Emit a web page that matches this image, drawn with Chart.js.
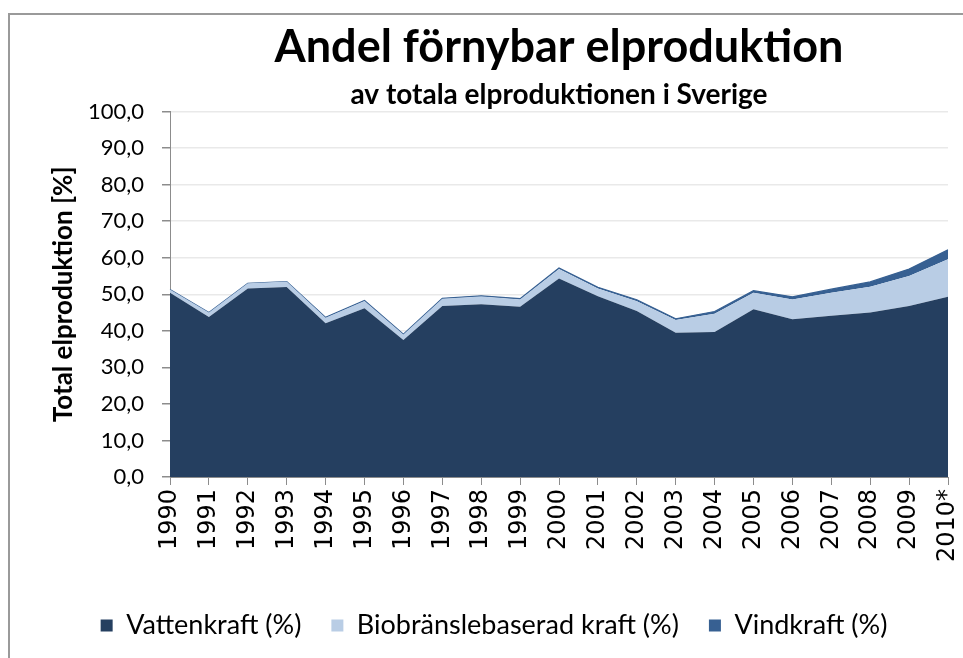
<!DOCTYPE html>
<html>
<head>
<meta charset="utf-8">
<script src="https://cdn.jsdelivr.net/npm/chart.js@4.4.1/dist/chart.umd.min.js"></script>
<style>
  html, body { margin: 0; padding: 0; background: #ffffff; }
  #wrap { width: 963px; height: 658px; position: relative; }
</style>
</head>
<body>
<div id="wrap"><canvas id="c" width="963" height="658"></canvas></div>
<script>
const years = ['1990','1991','1992','1993','1994','1995','1996','1997','1998','1999','2000','2001','2002','2003','2004','2005','2006','2007','2008','2009','2010*'];
const vattenkraft = [50.4,43.8,51.6,52.0,42.1,46.2,37.5,46.8,47.3,46.6,54.3,49.5,45.4,39.5,39.7,45.9,43.2,44.1,45.0,46.8,49.3];
const biobransle  = [0.9,1.2,1.4,1.5,1.5,2.0,1.5,2.0,2.1,2.0,2.6,2.1,2.7,3.5,5.0,4.5,5.4,6.3,7.1,8.2,10.3];
const vindkraft   = [0.0,0.0,0.0,0.0,0.1,0.1,0.1,0.1,0.2,0.2,0.3,0.3,0.4,0.3,0.6,0.6,0.7,1.0,1.3,1.9,2.6];
const yTicks = [0,10,20,30,40,50,60,70,80,90,100];

const frame = {
  id: 'frame',
  beforeDraw(chart) {
    const ctx = chart.ctx;
    ctx.save();
    ctx.strokeStyle = '#9a9a9a';
    ctx.lineWidth = 2;
    ctx.beginPath();
    ctx.moveTo(9, 658);
    ctx.lineTo(9, 14);
    ctx.lineTo(963, 14);
    ctx.stroke();
    ctx.restore();
  }
};

new Chart(document.getElementById('c'), {
  type: 'line',
  data: {
    labels: years,
    datasets: [
      { label: 'Vattenkraft (%)', data: vattenkraft, backgroundColor: '#253f60', borderColor: '#253f60', borderWidth: 0, fill: 'origin', pointRadius: 0, tension: 0 },
      { label: 'Biobränslebaserad kraft (%)', data: biobransle, backgroundColor: '#b9cde5', borderColor: '#b9cde5', borderWidth: 0, fill: '-1', pointRadius: 0, tension: 0 },
      { label: 'Vindkraft (%)', data: vindkraft, backgroundColor: '#376092', borderColor: '#376092', borderWidth: 1.2, fill: '-1', pointRadius: 0, tension: 0 }
    ]
  },
  options: {
    responsive: false,
    animation: false,
    events: [],
    layout: { padding: { left: 40, right: 15, top: 14, bottom: 9 } },
    scales: {
      x: {
        type: 'category',
        offset: false,
        grid: { drawOnChartArea: false, drawTicks: true, tickLength: 8, color: '#8c8c8c', lineWidth: 1 },
        border: { color: '#8c8c8c', width: 1 },
        ticks: { minRotation: 90, maxRotation: 90, autoSkip: false, padding: 4, color: '#000', font: { family: 'DejaVu Sans', size: 24 } },
        afterFit(s) { s.height = 105; s.paddingRight = 0; s.paddingLeft = 0; }
      },
      y: {
        stacked: true,
        min: 0, max: 100,
        afterBuildTicks(s) { s.ticks = yTicks.map(v => ({ value: v })); },
        grid: { color: '#e9e9e9', lineWidth: 1.5, tickColor: '#8c8c8c', tickLength: 8 },
        border: { color: '#8c8c8c', width: 1 },
        ticks: { padding: 18, color: '#000', font: { family: 'Lato', size: 22 }, callback: v => v.toFixed(1).replace('.', ',') },
        title: { display: true, text: 'Total elproduktion [%]', color: '#000', font: { family: 'Lato', size: 26, weight: 'bold' }, padding: { top: 8, bottom: 0 } },
        afterFit(s) { s.width = 130; s.paddingTop = 0; s.paddingBottom = 0; }
      }
    },
    plugins: {
      title: { display: true, fullSize: false, text: 'Andel förnybar elproduktion', color: '#000', font: { family: 'Lato', size: 45, weight: 'bold' }, padding: { top: 6, bottom: 0 } },
      subtitle: { display: true, fullSize: false, text: 'av totala elproduktionen i Sverige', color: '#000', font: { family: 'Lato', size: 28, weight: 'bold' }, padding: { top: 4, bottom: 0 } },
      legend: {
        position: 'bottom',
        labels: {
          boxWidth: 12, boxHeight: 12, padding: 30, color: '#000',
          font: { family: 'Lato', size: 27 },
          generateLabels(chart) {
            return chart.data.datasets.map((d, i) => ({ text: d.label, fillStyle: d.backgroundColor, strokeStyle: d.backgroundColor, lineWidth: 0, hidden: false, datasetIndex: i, fontColor: '#000' }));
          }
        }
      },
      tooltip: { enabled: false }
    }
  },
  plugins: [frame]
});
</script>
</body>
</html>
